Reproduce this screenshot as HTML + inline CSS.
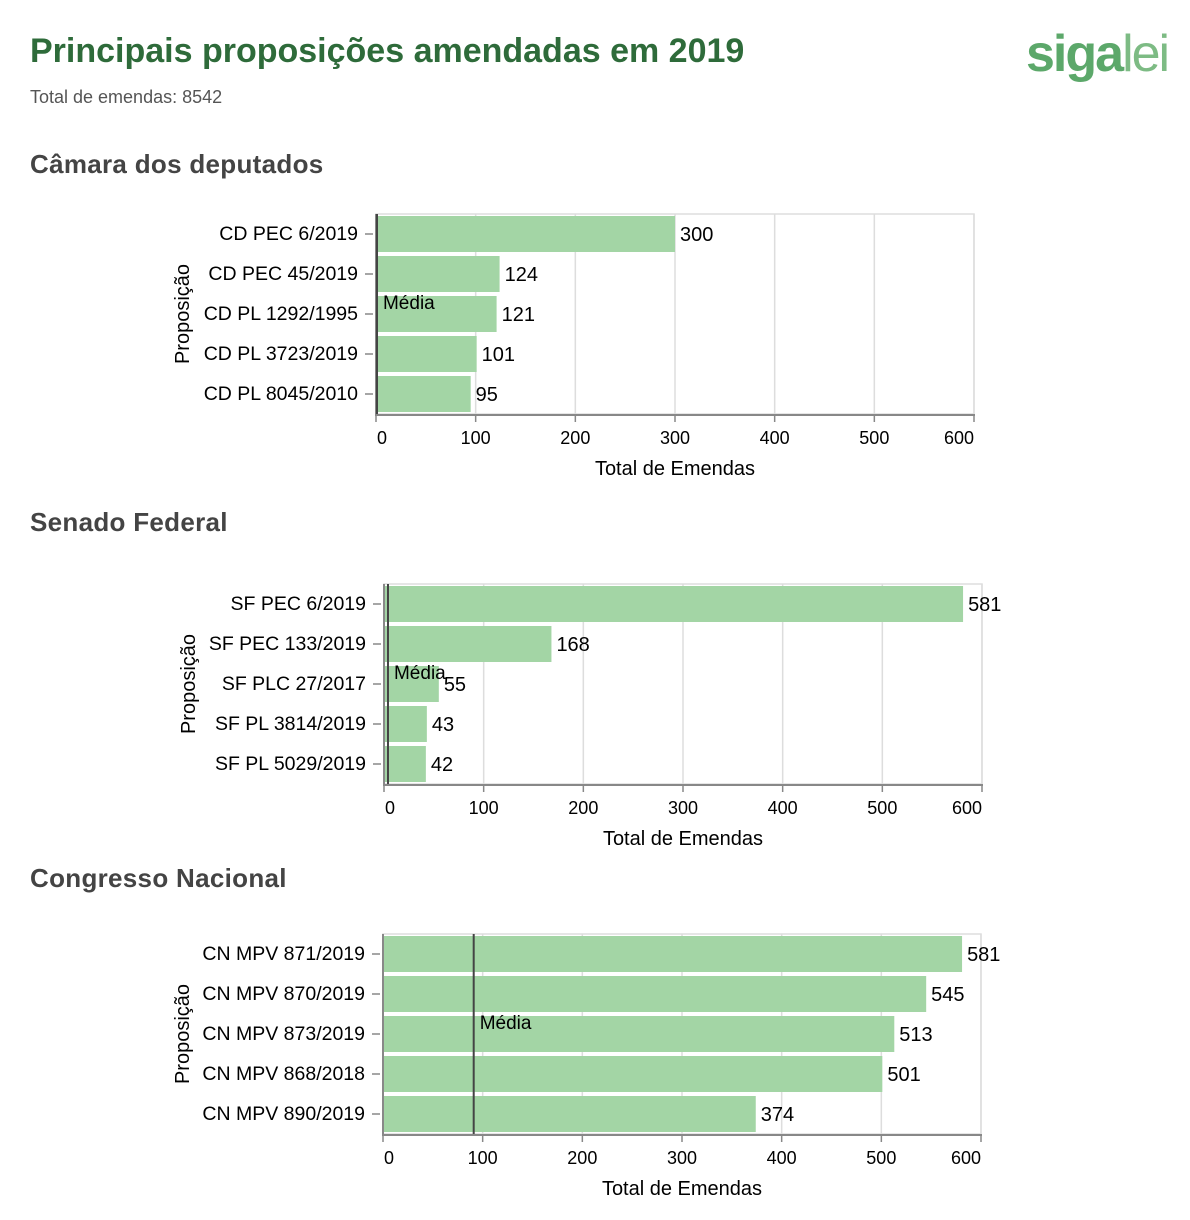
<!DOCTYPE html>
<html><head><meta charset="utf-8">
<style>
body{margin:0;background:#fff;width:1190px;height:1220px;overflow:hidden;font-family:"Liberation Sans",sans-serif;}
.t{position:absolute;left:30px;top:32px;font-size:34px;color:#2e6b3a;font-weight:bold;letter-spacing:0px;}
.sub{position:absolute;left:30px;top:87px;font-size:18px;color:#555;}
.logo{position:absolute;left:1026px;top:24px;font-size:52px;font-weight:bold;color:#5ca86a;letter-spacing:-2px;}
.logo span{color:#7dbb84;font-weight:normal;}
.sec{position:absolute;left:30px;font-size:26px;color:#444;font-weight:bold;letter-spacing:0.3px;}
svg{position:absolute;left:0;top:0;}
</style></head><body>
<div class="t">Principais proposições amendadas em 2019</div>
<div class="sub">Total de emendas: 8542</div>
<div class="logo">siga<span>lei</span></div>
<div class="sec" style="top:149px">Câmara dos deputados</div>
<div class="sec" style="top:507px">Senado Federal</div>
<div class="sec" style="top:863px">Congresso Nacional</div>
<svg id="s" width="1190" height="1220"></svg>
<script>
const cdCats=["CD PEC 6/2019","CD PEC 45/2019","CD PL 1292/1995","CD PL 3723/2019","CD PL 8045/2010"];
const cdVals=[300,124,121,101,95];
const cdMean=1;
const sfCats=["SF PEC 6/2019","SF PEC 133/2019","SF PLC 27/2017","SF PL 3814/2019","SF PL 5029/2019"];
const sfVals=[581,168,55,43,42];
const sfMean=4;
const cnCats=["CN MPV 871/2019","CN MPV 870/2019","CN MPV 873/2019","CN MPV 868/2018","CN MPV 890/2019"];
const cnVals=[581,545,513,501,374];
const cnMean=91;
const xTicks=[0,100,200,300,400,500,600];
const NS="http://www.w3.org/2000/svg";
const svg=document.getElementById('s');
function mk(tag,attrs,parent,text){const e=document.createElementNS(NS,tag);for(const k in attrs)e.setAttribute(k,attrs[k]);if(text!==undefined)e.textContent=text;(parent||svg).appendChild(e);return e;}
function chart(name,cats,vals,mean,x0,top,ytx){
  const w=598,h=200,maxV=600;
  const g=mk('g',{});
  
  
  const X=v=>x0+v/maxV*w;
  const band=h/cats.length;
  const Y=i=>top+i*band;
  xTicks.forEach(t=>{
    const l=mk('line',{x1:X(t),x2:X(t),y1:top,y2:top+h,stroke:'#ddd','stroke-width':1.5},g);
    
    
  });
  mk('rect',{x:x0,y:top,width:w,height:h,fill:'none',stroke:'#ddd','stroke-width':1.5},g);
  vals.forEach((v,i)=>{
    const r=mk('rect',{x:x0+1,y:Y(i)+2,width:X(v)-x0-1,height:band-4,fill:'#a3d5a5'},g);
    
    
    const tx=mk('text',{x:X(v)+5,y:Y(i)+band/2+7,'font-size':20,fill:'#000'},g,String(v));
    
    
    const lb=mk('text',{x:x0-18,y:Y(i)+band/2+6,'font-size':19.5,fill:'#000','text-anchor':'end'},g,cats[i]);
    
    
    mk('line',{x1:x0-11,x2:x0-3,y1:Y(i)+band/2,y2:Y(i)+band/2,stroke:'#888','stroke-width':1.5},g);
  });
  mk('line',{x1:x0,x2:x0,y1:top,y2:top+h,stroke:'#888','stroke-width':2},g);
  mk('line',{x1:x0-1,x2:x0+w+1,y1:top+h+1,y2:top+h+1,stroke:'#888','stroke-width':2},g);
  xTicks.forEach(t=>{
    mk('line',{x1:X(t),x2:X(t),y1:top+h,y2:top+h+8,stroke:'#888','stroke-width':1.5},g);
    const anchor=t===0?'start':(t===600?'end':'middle');
    const tl=mk('text',{x:X(t)+(t===0?1:0),y:top+h+30,'font-size':18,fill:'#000','text-anchor':anchor},g,String(t));
    
    
  });
  const ml=mk('line',{x1:X(mean),x2:X(mean),y1:top,y2:top+h,stroke:'#444','stroke-width':2},g);
  
  
  const mt=mk('text',{x:X(mean)+6,y:top+95,'font-size':19,fill:'#000'},g,'Média');
  
  
  const xt=mk('text',{x:x0+w/2,y:top+h+61,'font-size':20,fill:'#000','text-anchor':'middle'},g,'Total de Emendas');
  
  
  const yt=mk('text',{x:0,y:0,'font-size':20,fill:'#000','text-anchor':'middle',transform:`translate(${ytx},${top+h/2}) rotate(-90)`},g,'Proposição');
  
  
}
chart('camara',cdCats,cdVals,cdMean,376,214,189);
chart('senado',sfCats,sfVals,sfMean,384,584,195);
chart('congresso',cnCats,cnVals,cnMean,383,934,189);
</script>
</body></html>
